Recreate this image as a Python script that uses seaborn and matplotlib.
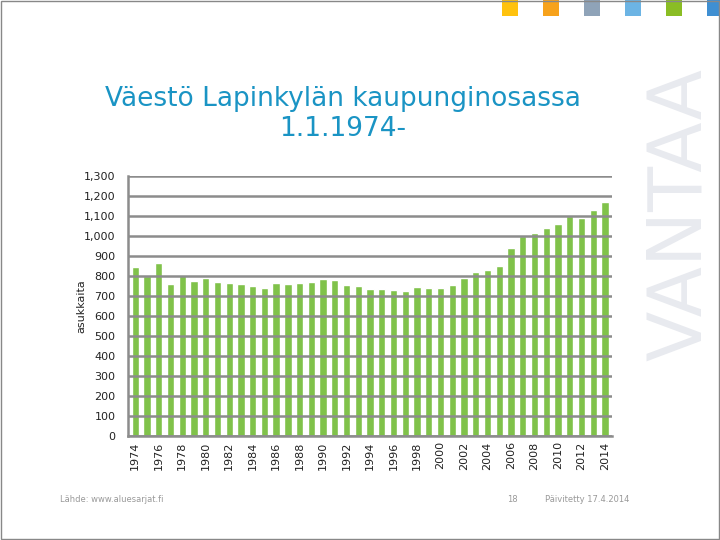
import matplotlib
matplotlib.use("Agg")
import matplotlib.pyplot as plt
from matplotlib.patches import Rectangle
import seaborn as sns
import pandas as pd

# vuodet ja asukasluku (luettu kuvasta)
vuodet = list(range(1974, 2015))
asukkaita = [846, 800, 867, 760, 803, 777, 790, 772, 767, 760,
             750, 742, 765, 760, 765, 772, 787, 780, 755, 750,
             735, 735, 730, 725, 745, 740, 740, 755, 790, 820,
             830, 850, 940, 1000, 1015, 1040, 1060, 1100, 1090, 1130,
             1170]
y_ticks = list(range(0, 1301, 100))

df = pd.DataFrame({'vuosi': [str(v) for v in vuodet], 'asukkaita': asukkaita})

sns.set_style('white')
plt.rcParams['font.family'] = ['DejaVu Sans']

fig = plt.figure(figsize=(7.2, 5.4), dpi=100)

# VANTAA-vesileima (taustalle)
fig.text(680 / 720, 1 - 214 / 540, 'VANTAA', rotation=90, ha='center', va='center',
         fontsize=53, color='#e8eaef')

ax = fig.add_axes([0.178, 0.193, 0.672, 0.481])
ax.patch.set_alpha(0)

sns.barplot(data=df, x='vuosi', y='asukkaita', color='#80c24a', saturation=1,
            width=0.62, ax=ax)

ax.set_ylim(0, 1300)
ax.set_yticks(y_ticks)
ax.set_yticklabels([f'{t:,}' for t in y_ticks], fontsize=8, color='#222222')
ax.yaxis.grid(True, color='#8c8c8c', linewidth=1.8)
ax.set_axisbelow(False)
ax.tick_params(axis='y', length=3, color='#8c8c8c', pad=6)
ax.tick_params(axis='x', length=0, pad=4)

xt = ax.get_xticks()
ax.set_xticks(xt[::2])
ax.set_xticklabels(df['vuosi'][::2], rotation=90, fontsize=8, color='#222222')
ax.set_xlim(-0.6, len(vuodet) - 0.4)

for s in ['top', 'right']:
    ax.spines[s].set_visible(False)
for s in ['left', 'bottom']:
    ax.spines[s].set_color('#8c8c8c')
    ax.spines[s].set_linewidth(1.8)

ax.set_xlabel('')
ax.set_ylabel('asukkaita', fontsize=8, color='#222222')
ax.yaxis.set_label_coords(-0.087, 0.5)

# otsikko
fig.text(0.476, 1 - 114 / 540, 'Väestö Lapinkylän kaupunginosassa\n1.1.1974-',
         ha='center', va='center', fontsize=19, color='#1a94c4', linespacing=1.2)

# värineliöt yläreunassa
varit = ['#ffc20e', '#f7a21b', '#8fa3b8', '#6cb4e4', '#8abd24', '#3f8fd2']
for i, c in enumerate(varit):
    fig.add_artist(Rectangle(((502 + i * 41) / 720, 1 - 16 / 540), 16 / 720, 16 / 540,
                             transform=fig.transFigure, color=c, lw=0))

# kehys
fig.add_artist(Rectangle((0.001, 0.001), 0.997, 0.997, transform=fig.transFigure,
                         fill=False, edgecolor='#888888', lw=1.0))

# alatunniste
fig.text(60 / 720, 1 - 500 / 540, 'Lähde: www.aluesarjat.fi', fontsize=6,
         color='#999999', va='center')
fig.text(507 / 720, 1 - 500 / 540, '18', fontsize=6, color='#999999', va='center')
fig.text(545 / 720, 1 - 500 / 540, 'Päivitetty 17.4.2014', fontsize=6,
         color='#999999', va='center')

fig.savefig('out.png', dpi=100)
